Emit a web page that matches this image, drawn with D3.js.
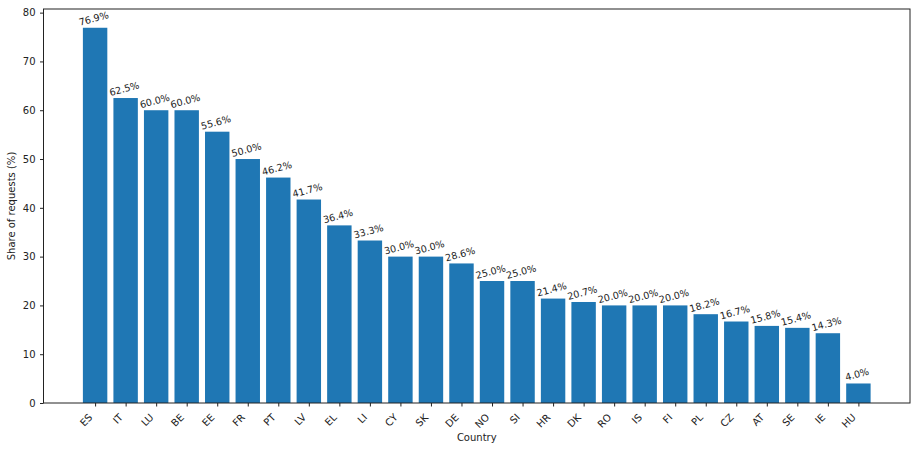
<!DOCTYPE html>
<html><head><meta charset="utf-8">
<script src="https://cdn.jsdelivr.net/npm/d3@7"></script>
<style>
body{margin:0;background:#fff;}
text{font-family:"DejaVu Sans",sans-serif;fill:#222;}
</style></head>
<body><svg id="c" width="916" height="452"></svg>
<script>
const countries = ["ES","IT","LU","BE","EE","FR","PT","LV","EL","LI","CY","SK","DE","NO","SI","HR","DK","RO","IS","FI","PL","CZ","AT","SE","IE","HU"];
const shares = [76.9,62.5,60.0,60.0,55.6,50.0,46.2,41.7,36.4,33.3,30.0,30.0,28.6,25.0,25.0,21.4,20.7,20.0,20.0,20.0,18.2,16.7,15.8,15.4,14.3,4.0];
const yTicks = [0,10,20,30,40,50,60,70,80];

const svg = d3.select("#c");
const L = 43.5, R = 910, T = 9, B = 403;
const n = countries.length;
const x = d3.scaleLinear().domain([-0.4 - 0.05*(n-0.2), n-1+0.4 + 0.05*(n-0.2)]).range([L, R]);
const ymax = d3.max(shares)*1.05;
const y = d3.scaleLinear().domain([0, ymax]).range([B, T]);

const bw = x(0.8) - x(0);
svg.append("g").selectAll("rect").data(shares).join("rect")
  .attr("x", (d,i) => x(i) - bw/2)
  .attr("y", d => y(d))
  .attr("width", bw)
  .attr("height", d => B - y(d))
  .attr("fill", "#1f77b4");

// frame
svg.append("rect").attr("x", L).attr("y", T).attr("width", R-L).attr("height", B-T)
  .attr("fill", "none").attr("stroke", "#222").attr("stroke-width", 1);

svg.append("g").selectAll("text").data(shares).join("text")
  .attr("transform", (d,i) => `translate(${x(i)-0.5},${y(d)-6}) rotate(-15)`)
  .attr("text-anchor", "middle")
  .attr("font-size", 9.6)
  .text(d => d.toFixed(1) + "%");

// y axis
const yAxis = d3.axisLeft(y).tickValues(yTicks).tickSize(3.5).tickPadding(4.5);
const gy = svg.append("g").attr("transform", `translate(${L},0)`).call(yAxis);
gy.select(".domain").remove();
gy.selectAll("text").attr("font-size", 10).attr("font-family", "DejaVu Sans").attr("fill", "#222");
gy.selectAll("line").attr("stroke", "#222");

// x axis
const xAxis = d3.axisBottom(x).tickValues(d3.range(n)).tickFormat(i => countries[i]).tickSize(3.5);
const gx = svg.append("g").attr("transform", `translate(0,${B})`).call(xAxis);
gx.select(".domain").remove();
gx.selectAll("line").attr("stroke", "#222");
gx.selectAll("text")
  .attr("font-size", 10).attr("font-family", "DejaVu Sans").attr("fill", "#222")
  .attr("text-anchor", "end")
  .attr("dy", null)
  .attr("y", 0)
  .attr("transform", "translate(-2.5,15) rotate(-45)");

svg.append("text").attr("x", (L+R)/2).attr("y", 441).attr("text-anchor", "middle")
  .attr("font-size", 10).text("Country");
svg.append("text").attr("transform", `translate(15,${(T+B)/2}) rotate(-90)`)
  .attr("text-anchor", "middle").attr("font-size", 10).text("Share of requests (%)");
</script></body></html>
